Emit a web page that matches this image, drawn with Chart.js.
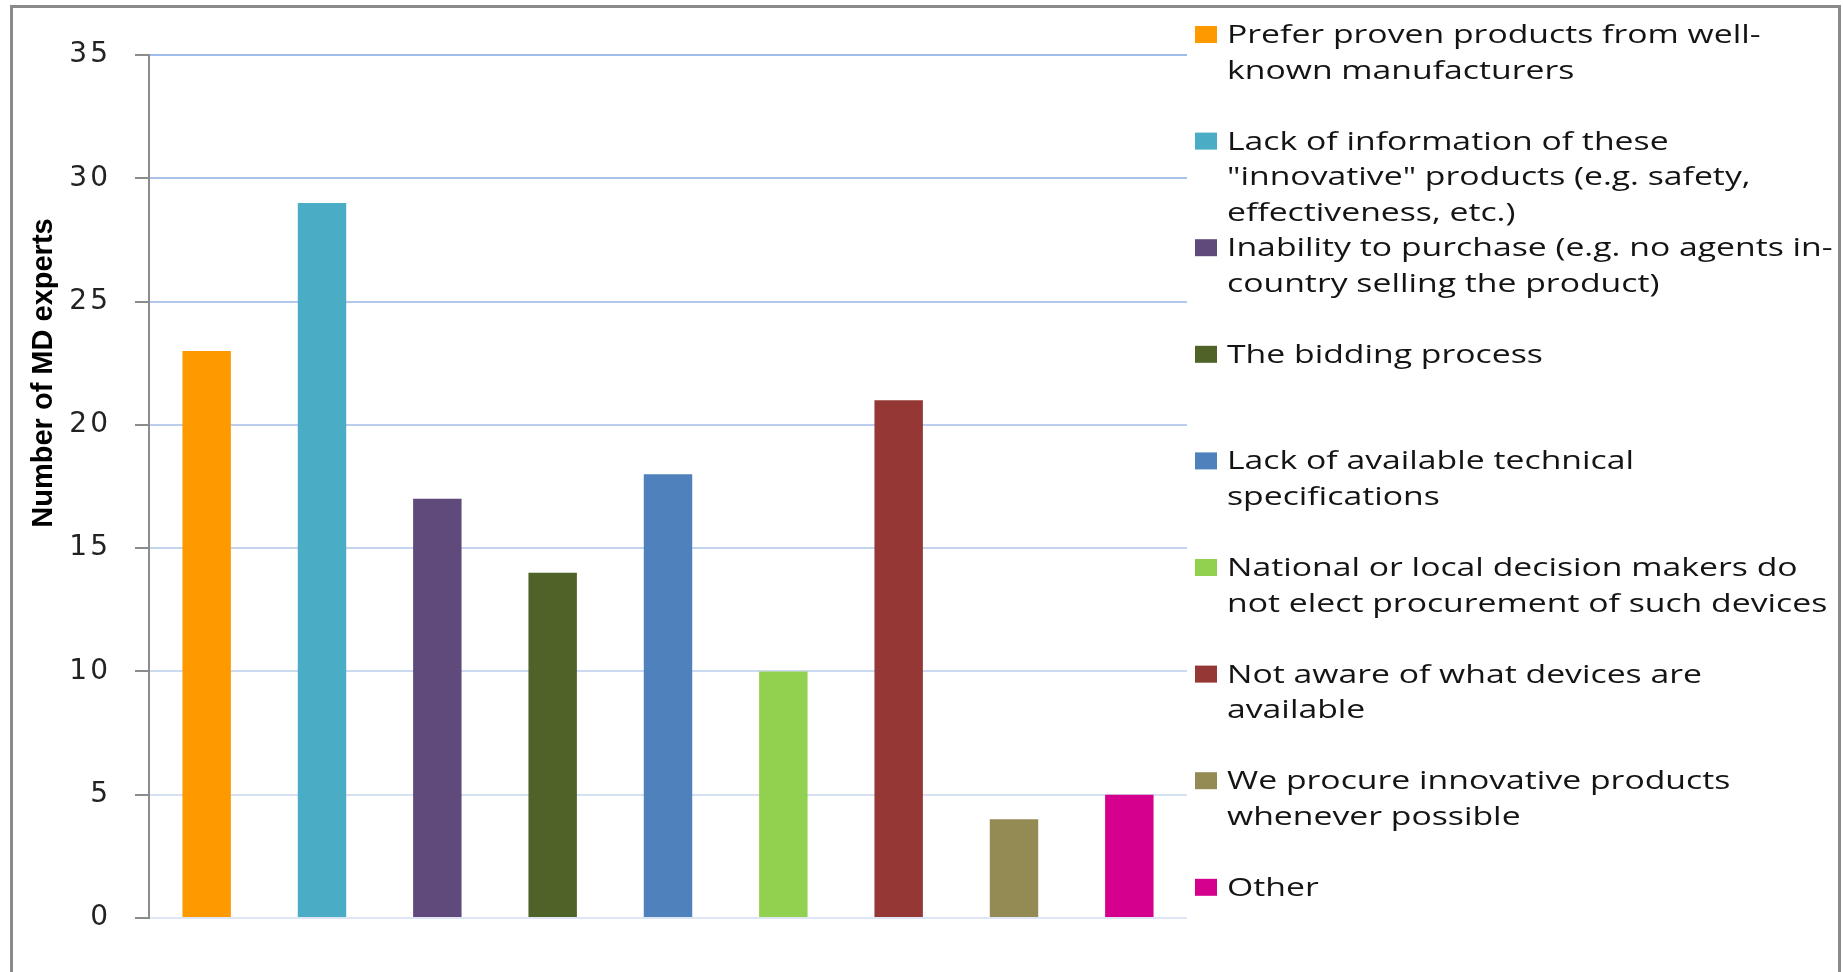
<!DOCTYPE html>
<html>
<head>
<meta charset="utf-8">
<script src="https://cdn.jsdelivr.net/npm/chart.js@4/dist/chart.umd.min.js"></script>
<style>
  body { margin: 0; background: #fff; overflow: hidden; }
  #frame { position: absolute; left: 10px; top: 5px; width: 1831px; height: 1000px; box-sizing: border-box; border: 3px solid #8a8a8a; border-bottom: none; }
  #chart { position: absolute; left: 0; top: 0; }
</style>
</head>
<body>
<div id="frame"></div>
<canvas id="chart" width="1843" height="972"></canvas>
<script>
// categories (legend entries, already wrapped as in the original)
const categories = [
    ['Prefer proven products from well-', 'known manufacturers'],
    ['Lack of information of these', '"innovative" products (e.g. safety,', 'effectiveness, etc.)'],
    ['Inability to purchase (e.g. no agents in-', 'country selling the product)'],
    ['The bidding process'],
    ['Lack of available technical', 'specifications'],
    ['National or local decision makers do', 'not elect procurement of such devices'],
    ['Not aware of what devices are', 'available'],
    ['We procure innovative products', 'whenever possible'],
    ['Other']
];
const expertCounts = [23, 29, 17, 14, 18, 10, 21, 4, 5];
const yTicks = [0, 5, 10, 15, 20, 25, 30, 35];
const yTitle = 'Number of MD experts';

const barColors = ['#FF9900', '#4BACC6', '#604A7B', '#4F6228', '#4F81BD', '#92D050', '#953735', '#948A54', '#D6008F'];

// side legend with wrapped lines, drawn next to the plot
const sideLegend = {
    id: 'sideLegend',
    afterDraw(chart) {
        const c = chart.ctx;
        const x0 = chart.chartArea.right + 8;
        c.save();
        c.font = '25px "Open Sans"';
        c.textBaseline = 'alphabetic';
        categories.forEach((lines, i) => {
            const y = 43 + i * 106.6;
            c.fillStyle = barColors[i];
            c.fillRect(x0, y - 17, 22, 17);
            c.fillStyle = '#141414';
            lines.forEach((line, j) => {
                c.save();
                c.translate(x0 + 32, y + j * 35.5);
                c.scale(1.35, 1);
                c.fillText(line, 0, 0);
                c.restore();
            });
        });
        // y axis title
        c.save();
        c.translate(44, 373);
        c.rotate(-Math.PI / 2);
        c.font = 'bold 29px "Liberation Sans"';
        c.textAlign = 'center';
        c.textBaseline = 'middle';
        c.fillStyle = '#000';
        c.fillText(yTitle, 0, 0);
        c.restore();
        c.restore();
    }
};

// wider tick digits, like the stretched original
const tickSpacing = {
    id: 'tickSpacing',
    beforeDraw(chart) { chart.ctx.letterSpacing = '3px'; },
    beforeDatasetsDraw(chart) { chart.ctx.letterSpacing = '0px'; }
};

function gridColor(ctx) {
    const v = ctx.tick ? ctx.tick.value : 0;
    const t = v / 35;
    const r = Math.round(222 - t * 62);
    const g = Math.round(230 - t * 42);
    const b = Math.round(245 - t * 13);
    return `rgb(${r}, ${g}, ${b})`;
}

const ctx = document.getElementById('chart');

new Chart(ctx, {
    type: 'bar',
    data: {
        labels: categories.map(l => l.join(' ')),
        datasets: [{
            data: expertCounts,
            backgroundColor: barColors,
            borderWidth: 0,
            barPercentage: 0.42,
            categoryPercentage: 1
        }]
    },
    options: {
        responsive: false,
        devicePixelRatio: 1,
        animation: false,
        layout: {
            padding: { left: 0, top: 55, right: 656, bottom: 54 }
        },
        plugins: {
            legend: { display: false },
            tooltip: { enabled: false }
        },
        scales: {
            x: {
                display: false
            },
            y: {
                min: 0,
                max: 35,
                afterBuildTicks: axis => { axis.ticks = yTicks.map(v => ({ value: v })); },
                afterFit: axis => { axis.width = 149; },
                border: { display: true, color: '#8c8c8c', width: 2 },
                grid: {
                    color: gridColor,
                    lineWidth: 2,
                    tickLength: 14,
                    tickColor: '#8c8c8c',
                    tickWidth: 2
                },
                ticks: {
                    padding: 24,
                    color: '#222',
                    font: { family: 'DejaVu Sans', size: 28 }
                }
            }
        }
    },
    plugins: [sideLegend, tickSpacing]
});
</script>
</body>
</html>
